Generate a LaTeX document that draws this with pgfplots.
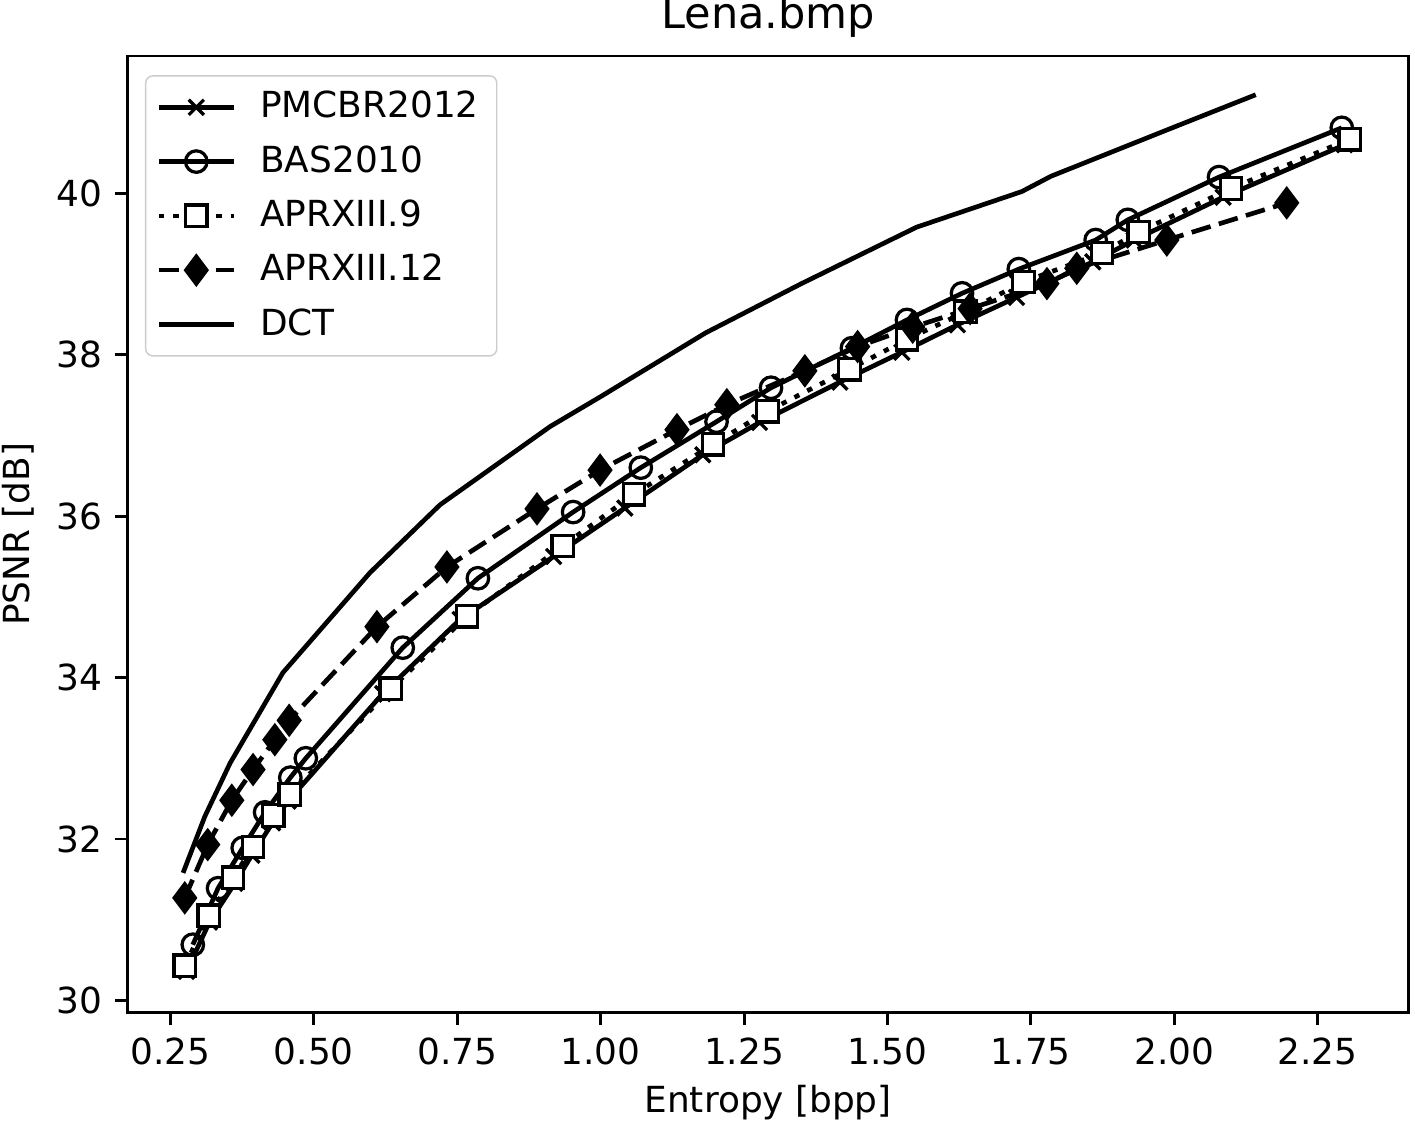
\documentclass[border=0pt]{standalone}
\usepackage{fontspec}
\setmainfont{DejaVu Sans}
\usepackage{pgfplots}
\pgfplotsset{compat=1.18}
\begin{document}
\fontsize{10pt}{12pt}\selectfont
\begin{tikzpicture}
\begin{axis}[
  scale only axis, width=357pt, height=266.5pt,
  xmin=0.175, xmax=2.409, ymin=29.849, ymax=41.70,
  xtick={0.25,0.5,0.75,1,1.25,1.5,1.75,2,2.25},
  ytick={30,32,34,36,38,40},
  /pgf/number format/assume math mode=true,
  xticklabel style={/pgf/number format/.cd, fixed, fixed zerofill, precision=2},
  tick label style={font=\fontsize{10pt}{12pt}\selectfont},
  label style={font=\fontsize{10pt}{12pt}\selectfont},
  tick align=outside, tick pos=left, major tick length=3.5pt,
  every tick/.style={black, line width=0.8pt},
  axis line style={line width=0.8pt},
  xlabel={Entropy [bpp]},
  xlabel style={at={(axis description cs:0.5,-0.0945)}, anchor=center},
  ylabel={PSNR [dB]},
  ylabel style={at={(axis description cs:-0.0854,0.5)}, anchor=center},
  legend style={at={(0.0137,0.980)}, anchor=north west, draw=black!20, rounded corners=2pt,
    fill=white, font=\fontsize{10pt}{12pt}\selectfont, row sep=2.2pt, column sep=4.7pt,
    inner xsep=3pt, inner ysep=2.3pt},
  legend cell align=left,
  legend image code/.code={\draw[mark repeat=2,mark phase=2,#1] plot coordinates {(0pt,0pt) (10.45pt,0pt) (20.9pt,0pt)};},
  every axis plot/.append style={line width=1.3pt, line cap=butt},
]
% PMCBR2012
\addplot[black, mark=x, mark size=3pt, mark options={solid, line width=0.9pt}] coordinates {
(0.278,30.36) (0.318,30.97) (0.362,31.45) (0.392,31.80) (0.428,32.20) (0.455,32.47)
(0.620,33.80) (0.755,34.72) (0.918,35.50) (1.042,36.10) (1.178,36.76) (1.277,37.16)
(1.417,37.66) (1.525,38.03) (1.622,38.37) (1.725,38.71) (1.858,39.15) (1.930,39.42)
(2.085,39.95) (2.297,40.60)};
\addlegendentry{PMCBR2012}
% BAS2010
\addplot[black, mark=o, mark size=3pt, mark options={solid, fill=white, line width=0.9pt}] coordinates {
(0.289,30.69) (0.333,31.39) (0.376,31.89) (0.415,32.33) (0.459,32.76) (0.486,33.00)
(0.655,34.37) (0.786,35.23) (0.952,36.05) (1.070,36.60) (1.202,37.17) (1.297,37.59)
(1.438,38.08) (1.534,38.43) (1.630,38.76) (1.729,39.06) (1.863,39.42) (1.919,39.67)
(2.078,40.20) (2.292,40.81)};
\addlegendentry{BAS2010}
% APRXIII.9
\addplot[black, dash pattern=on 1.5pt off 2.5pt, mark=square*, mark size=3pt, mark options={solid, fill=white, line width=0.9pt}] coordinates {
(0.275,30.43) (0.317,31.05) (0.359,31.52) (0.394,31.90) (0.429,32.29) (0.458,32.55)
(0.634,33.86) (0.767,34.76) (0.934,35.63) (1.058,36.27) (1.196,36.89) (1.291,37.30)
(1.434,37.82) (1.534,38.19) (1.636,38.53) (1.737,38.90) (1.874,39.26) (1.938,39.52)
(2.099,40.06) (2.306,40.67)};
\addlegendentry{APRXIII.9}
% APRXIII.12
\addplot[black, dash pattern=on 5.5pt off 2.4pt, mark=diamond*, mark size=4.2pt, mark options={solid, fill=black, line width=0.6pt}] coordinates {
(0.275,31.27) (0.315,31.93) (0.357,32.48) (0.394,32.86) (0.432,33.23) (0.457,33.47)
(0.610,34.63) (0.732,35.37) (0.889,36.09) (0.999,36.57) (1.133,37.07) (1.220,37.38)
(1.356,37.80) (1.448,38.10) (1.544,38.34) (1.644,38.57) (1.778,38.88) (1.830,39.07)
(1.987,39.42) (2.196,39.88)};
\addlegendentry{APRXIII.12}
% DCT
\addplot[black, no markers] coordinates {
(0.272,31.58) (0.310,32.28) (0.354,32.94) (0.446,34.06) (0.598,35.30) (0.720,36.14)
(0.912,37.11) (1.000,37.48) (1.183,38.27) (1.350,38.88) (1.551,39.58) (1.734,40.02)
(1.785,40.21) (2.000,40.82) (2.142,41.22)};
\addlegendentry{DCT}
\end{axis}
\node[font=\fontsize{12pt}{14pt}\selectfont, anchor=center, inner sep=0pt] at (178.5pt,277.4pt) {Lena.bmp};
\pgfresetboundingbox
\path (-35.5pt,-31.0pt) rectangle (358.7pt,282.1pt);
\end{tikzpicture}
\end{document}
